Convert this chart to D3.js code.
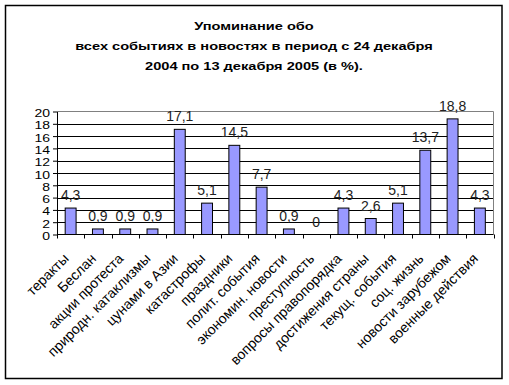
<!DOCTYPE html>
<html>
<head>
<meta charset="utf-8">
<script src="https://cdn.jsdelivr.net/npm/d3@7/dist/d3.min.js"></script>
<style>
  body { margin: 0; background: #fff; }
  text { font-family: Arial, "Liberation Sans", sans-serif; }
</style>
</head>
<body>
<svg id="chart" width="509" height="385"></svg>
<script>
let categories = ['теракты', 'Беслан', 'акции протеста', 'природн. катаклизмы', 'цунами в Азии',
  'катастрофы', 'праздники', 'полит. события', 'экономин. новости', 'преступность',
  'вопросы правопорядка', 'достижения страны', 'текущ. события', 'соц. жизнь',
  'новости зарубежом', 'военные действия'];
let values = [4.3, 0.9, 0.9, 0.9, 17.1, 5.1, 14.5, 7.7, 0.9, 0, 4.3, 2.6, 5.1, 13.7, 18.8, 4.3];
let yTicks = [0, 2, 4, 6, 8, 10, 12, 14, 16, 18, 20];
let titleLines = ['Упоминание обо', 'всех событиях в новостях в период с 24 декабря', '2004 по 13 декабря 2005 (в %).'];

let svg = d3.select('#chart');

let plotLeft = 57, plotRight = 493.5, plotTop = 111.5, plotBottom = 234.5;

let x = d3.scaleBand().domain(categories).range([plotLeft, plotRight]).paddingInner(0.6).paddingOuter(0.3);
let xOuter = d3.scaleBand().domain(categories).range([plotLeft, plotRight]);
let y = d3.scaleLinear().domain([0, 20]).range([plotBottom, plotTop]);

// outer frame
svg.append('rect')
  .attr('x', 5.5).attr('y', 5.5)
  .attr('width', 496.5).attr('height', 373)
  .attr('fill', '#fff').attr('stroke', '#000').attr('stroke-width', 1.5);

// title
svg.selectAll('.title')
  .data(titleLines)
  .enter()
  .append('text')
  .attr('class', 'title')
  .attr('transform', (d, i) => `translate(254,${30 + i * 20}) scale(1,0.75)`)
  .attr('text-anchor', 'middle')
  .attr('font-size', 14.6)
  .attr('font-weight', 'bold')
  .text(d => d);

// gridlines
svg.selectAll('.grid')
  .data(yTicks.filter(t => t > 0 && t < 20))
  .enter()
  .append('line')
  .attr('x1', plotLeft).attr('x2', plotRight)
  .attr('y1', d => Math.round(y(d)) + 0.5).attr('y2', d => Math.round(y(d)) + 0.5)
  .attr('stroke', '#000');

// plot border top/right
svg.append('path')
  .attr('d', `M${plotLeft},${plotTop}H${plotRight}V${plotBottom}`)
  .attr('fill', 'none').attr('stroke', '#808080');

// bars
svg.selectAll('.bar')
  .data(values)
  .enter()
  .append('rect')
  .attr('class', 'bar')
  .attr('x', (d, i) => x(categories[i]))
  .attr('width', x.bandwidth())
  .attr('y', d => y(d))
  .attr('height', d => y(0) - y(d))
  .attr('fill', '#9999ff')
  .attr('stroke', '#000');

// data labels
svg.selectAll('.label')
  .data(values)
  .enter()
  .append('text')
  .attr('x', (d, i) => x(categories[i]) + x.bandwidth() / 2)
  .attr('y', d => y(d) - 8)
  .attr('text-anchor', 'middle')
  .attr('font-size', 14)
  .attr('fill', '#222')
  .text(d => String(d).replace('.', ','));

// y axis
let yAxis = d3.axisLeft(y).tickValues(yTicks).tickSize(4).tickSizeOuter(0);
let gy = svg.append('g').attr('transform', `translate(${plotLeft},0)`).call(yAxis);
gy.select('.domain').attr('stroke', '#000');
gy.selectAll('.tick line').attr('stroke', '#000');
gy.selectAll('.tick text')
  .attr('x', null).attr('dy', null)
  .attr('font-size', 14)
  .attr('fill', '#000')
  .attr('font-family', 'Arial, "Liberation Sans", sans-serif')
  .attr('transform', 'translate(-7,5) scale(1,0.75)');

// x axis
let gx = svg.append('g').attr('transform', `translate(0,${plotBottom})`);
gx.append('line').attr('x1', plotLeft).attr('x2', plotRight).attr('stroke', '#000');
let bounds = categories.map(c => xOuter(c)).concat([plotRight]);
gx.selectAll('.xt')
  .data(bounds)
  .enter()
  .append('line')
  .attr('x1', d => Math.round(d) + 0.5).attr('x2', d => Math.round(d) + 0.5)
  .attr('y1', 0).attr('y2', 4)
  .attr('stroke', '#000');

gx.selectAll('.xl')
  .data(categories)
  .enter()
  .append('text')
  .attr('transform', d => `translate(${xOuter(d) + xOuter.bandwidth() / 2 - 1},25) rotate(-45)`)
  .attr('text-anchor', 'end')
  .attr('font-size', 14)
  .text(d => d);
</script>
</body>
</html>
